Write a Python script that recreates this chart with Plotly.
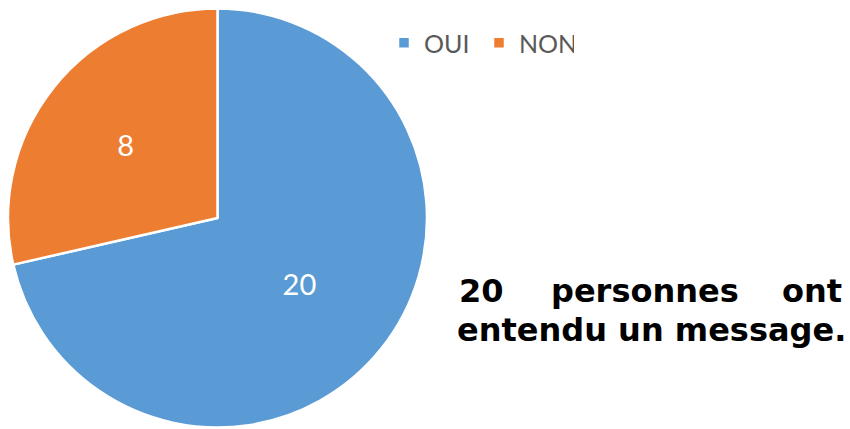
import plotly.graph_objects as go

# Data
labels = ["OUI", "NON"]
values = [20, 8]
colors = ["#5B9BD5", "#ED7D31"]

line1_words = ["20", "personnes", "ont"]
line2_text = "entendu un message."

W, H = 850, 429

def px(x):
    return x / W

def py(y):
    return 1 - y / H

fig = go.Figure()
fig.add_trace(go.Pie(
    labels=labels,
    values=values,
    marker=dict(colors=colors, line=dict(color="white", width=2.5)),
    direction="clockwise",
    sort=False,
    rotation=0,
    textinfo="value",
    textposition="inside",
    insidetextorientation="horizontal",
    textfont=dict(family="Lato, Open Sans, sans-serif", size=29, color="white"),
    hoverinfo="none",
    domain=dict(x=[px(8), px(427)], y=[py(428), py(8)]),
))

txt_font = dict(family="DejaVu Sans", size=32, color="black", weight="bold")
ann = []
# line 1: justified words
ann.append(dict(text=line1_words[0], x=px(457), y=py(291), xanchor="left", yanchor="middle"))
ann.append(dict(text=line1_words[1], x=px(644.5), y=py(291), xanchor="center", yanchor="middle"))
ann.append(dict(text=line1_words[2], x=px(844), y=py(291), xanchor="right", yanchor="middle"))
# line 2
ann.append(dict(text=line2_text, x=px(455), y=py(330), xanchor="left", yanchor="middle"))
for a in ann:
    a.update(xref="paper", yref="paper", showarrow=False, font=txt_font)

fig.update_layout(
    width=W, height=H,
    margin=dict(l=0, r=0, t=0, b=0),
    paper_bgcolor="white",
    plot_bgcolor="white",
    showlegend=True,
    legend=dict(
        orientation="h",
        x=px(384), y=py(20), xanchor="left", yanchor="top",
        font=dict(family="Lato, Open Sans, sans-serif", size=25, color="#595959"),
        bgcolor="rgba(0,0,0,0)",
        entrywidth=50,
        traceorder="normal",
    ),
    annotations=ann,
)

fig.write_html(
    "out.html",
    config={"displayModeBar": False},
    post_script="document.body.style.margin='0';document.body.style.overflow='hidden';",
)
